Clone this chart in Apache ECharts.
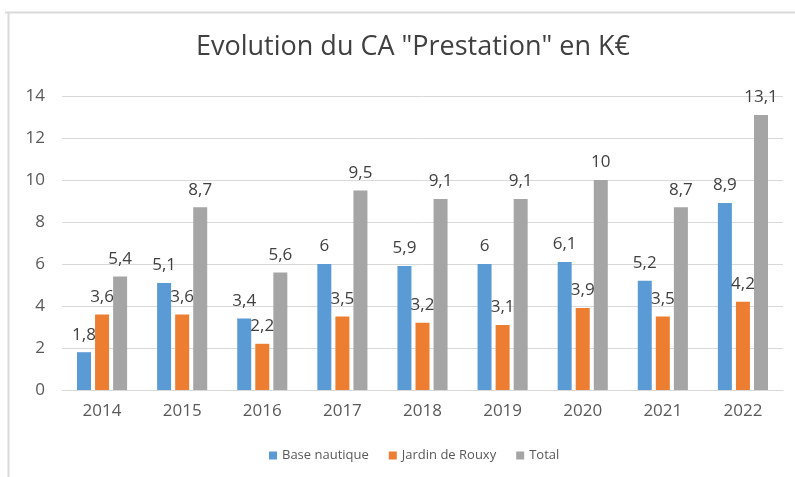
<!DOCTYPE html>
<html>
<head>
<meta charset="utf-8">
<script src="https://cdn.jsdelivr.net/npm/echarts@6/dist/echarts.min.js"></script>
<style>
  html, body { margin: 0; padding: 0; background: #ffffff; }
  #chart { width: 795px; height: 477px; }
</style>
</head>
<body>
<div id="chart"></div>
<script>
// Chiffre d'affaires "Prestation" par année, en K€
const years = ['2014', '2015', '2016', '2017', '2018', '2019', '2020', '2021', '2022'];
const baseNautique = [1.8, 5.1, 3.4, 6, 5.9, 6, 6.1, 5.2, 8.9];
const jardinRouxy = [3.6, 3.6, 2.2, 3.5, 3.2, 3.1, 3.9, 3.5, 4.2];
const total = [5.4, 8.7, 5.6, 9.5, 9.1, 9.1, 10, 8.7, 13.1];
const yTicks = { min: 0, max: 14, interval: 2 };

const FONT = '"Open Sans", Lato, sans-serif';
const TEXT = '#595959';

const chart = echarts.init(document.getElementById('chart'), null, { renderer: 'canvas' });

function frNumber(v) {
  return String(v).replace('.', ',');
}

function barSeries(name, data, color) {
  return {
    name: name,
    type: 'bar',
    data: data,
    barWidth: 14,
    barGap: '29%',
    itemStyle: { color: color },
    label: {
      show: true,
      position: 'top',
      distance: 9,
      color: '#404040',
      fontFamily: FONT,
      fontSize: 17,
      formatter: p => frNumber(p.value)
    },
    emphasis: { disabled: true }
  };
}

chart.setOption({
  animation: false,
  textStyle: { fontFamily: FONT },
  title: {
    text: 'Evolution du CA "Prestation" en K€',
    left: 191,
    top: 29,
    textStyle: { fontFamily: FONT, fontSize: 27, fontWeight: 'normal', color: '#404040' }
  },
  legend: {
    bottom: 10,
    left: 264,
    itemWidth: 8,
    itemHeight: 8,
    itemGap: 20,
    icon: 'rect',
    textStyle: { fontFamily: FONT, fontSize: 13, color: TEXT },
    data: ['Base nautique', 'Jardin de Rouxy', 'Total']
  },
  grid: { left: 62, right: 12, top: 96, bottom: 87, containLabel: false },
  xAxis: {
    type: 'category',
    data: years,
    axisLine: { lineStyle: { color: '#d9d9d9', width: 1 } },
    axisTick: { show: false },
    axisLabel: { color: TEXT, fontFamily: FONT, fontSize: 17, margin: 13 }
  },
  yAxis: {
    type: 'value',
    min: yTicks.min,
    max: yTicks.max,
    interval: yTicks.interval,
    axisLine: { show: false },
    axisTick: { show: false },
    splitLine: { lineStyle: { color: '#d9d9d9', width: 1 } },
    axisLabel: { color: TEXT, fontFamily: FONT, fontSize: 17, margin: 17 }
  },
  graphic: [
    { type: 'line', shape: { x1: 5, y1: 12.5, x2: 795, y2: 12.5 }, style: { stroke: '#d9d9d9', lineWidth: 2 } },
    { type: 'line', shape: { x1: 8.5, y1: 12, x2: 8.5, y2: 477 }, style: { stroke: '#d9d9d9', lineWidth: 2 } }
  ],
  series: [
    barSeries('Base nautique', baseNautique, '#5b9bd5'),
    barSeries('Jardin de Rouxy', jardinRouxy, '#ed7d31'),
    barSeries('Total', total, '#a5a5a5')
  ]
});
</script>
</body>
</html>
